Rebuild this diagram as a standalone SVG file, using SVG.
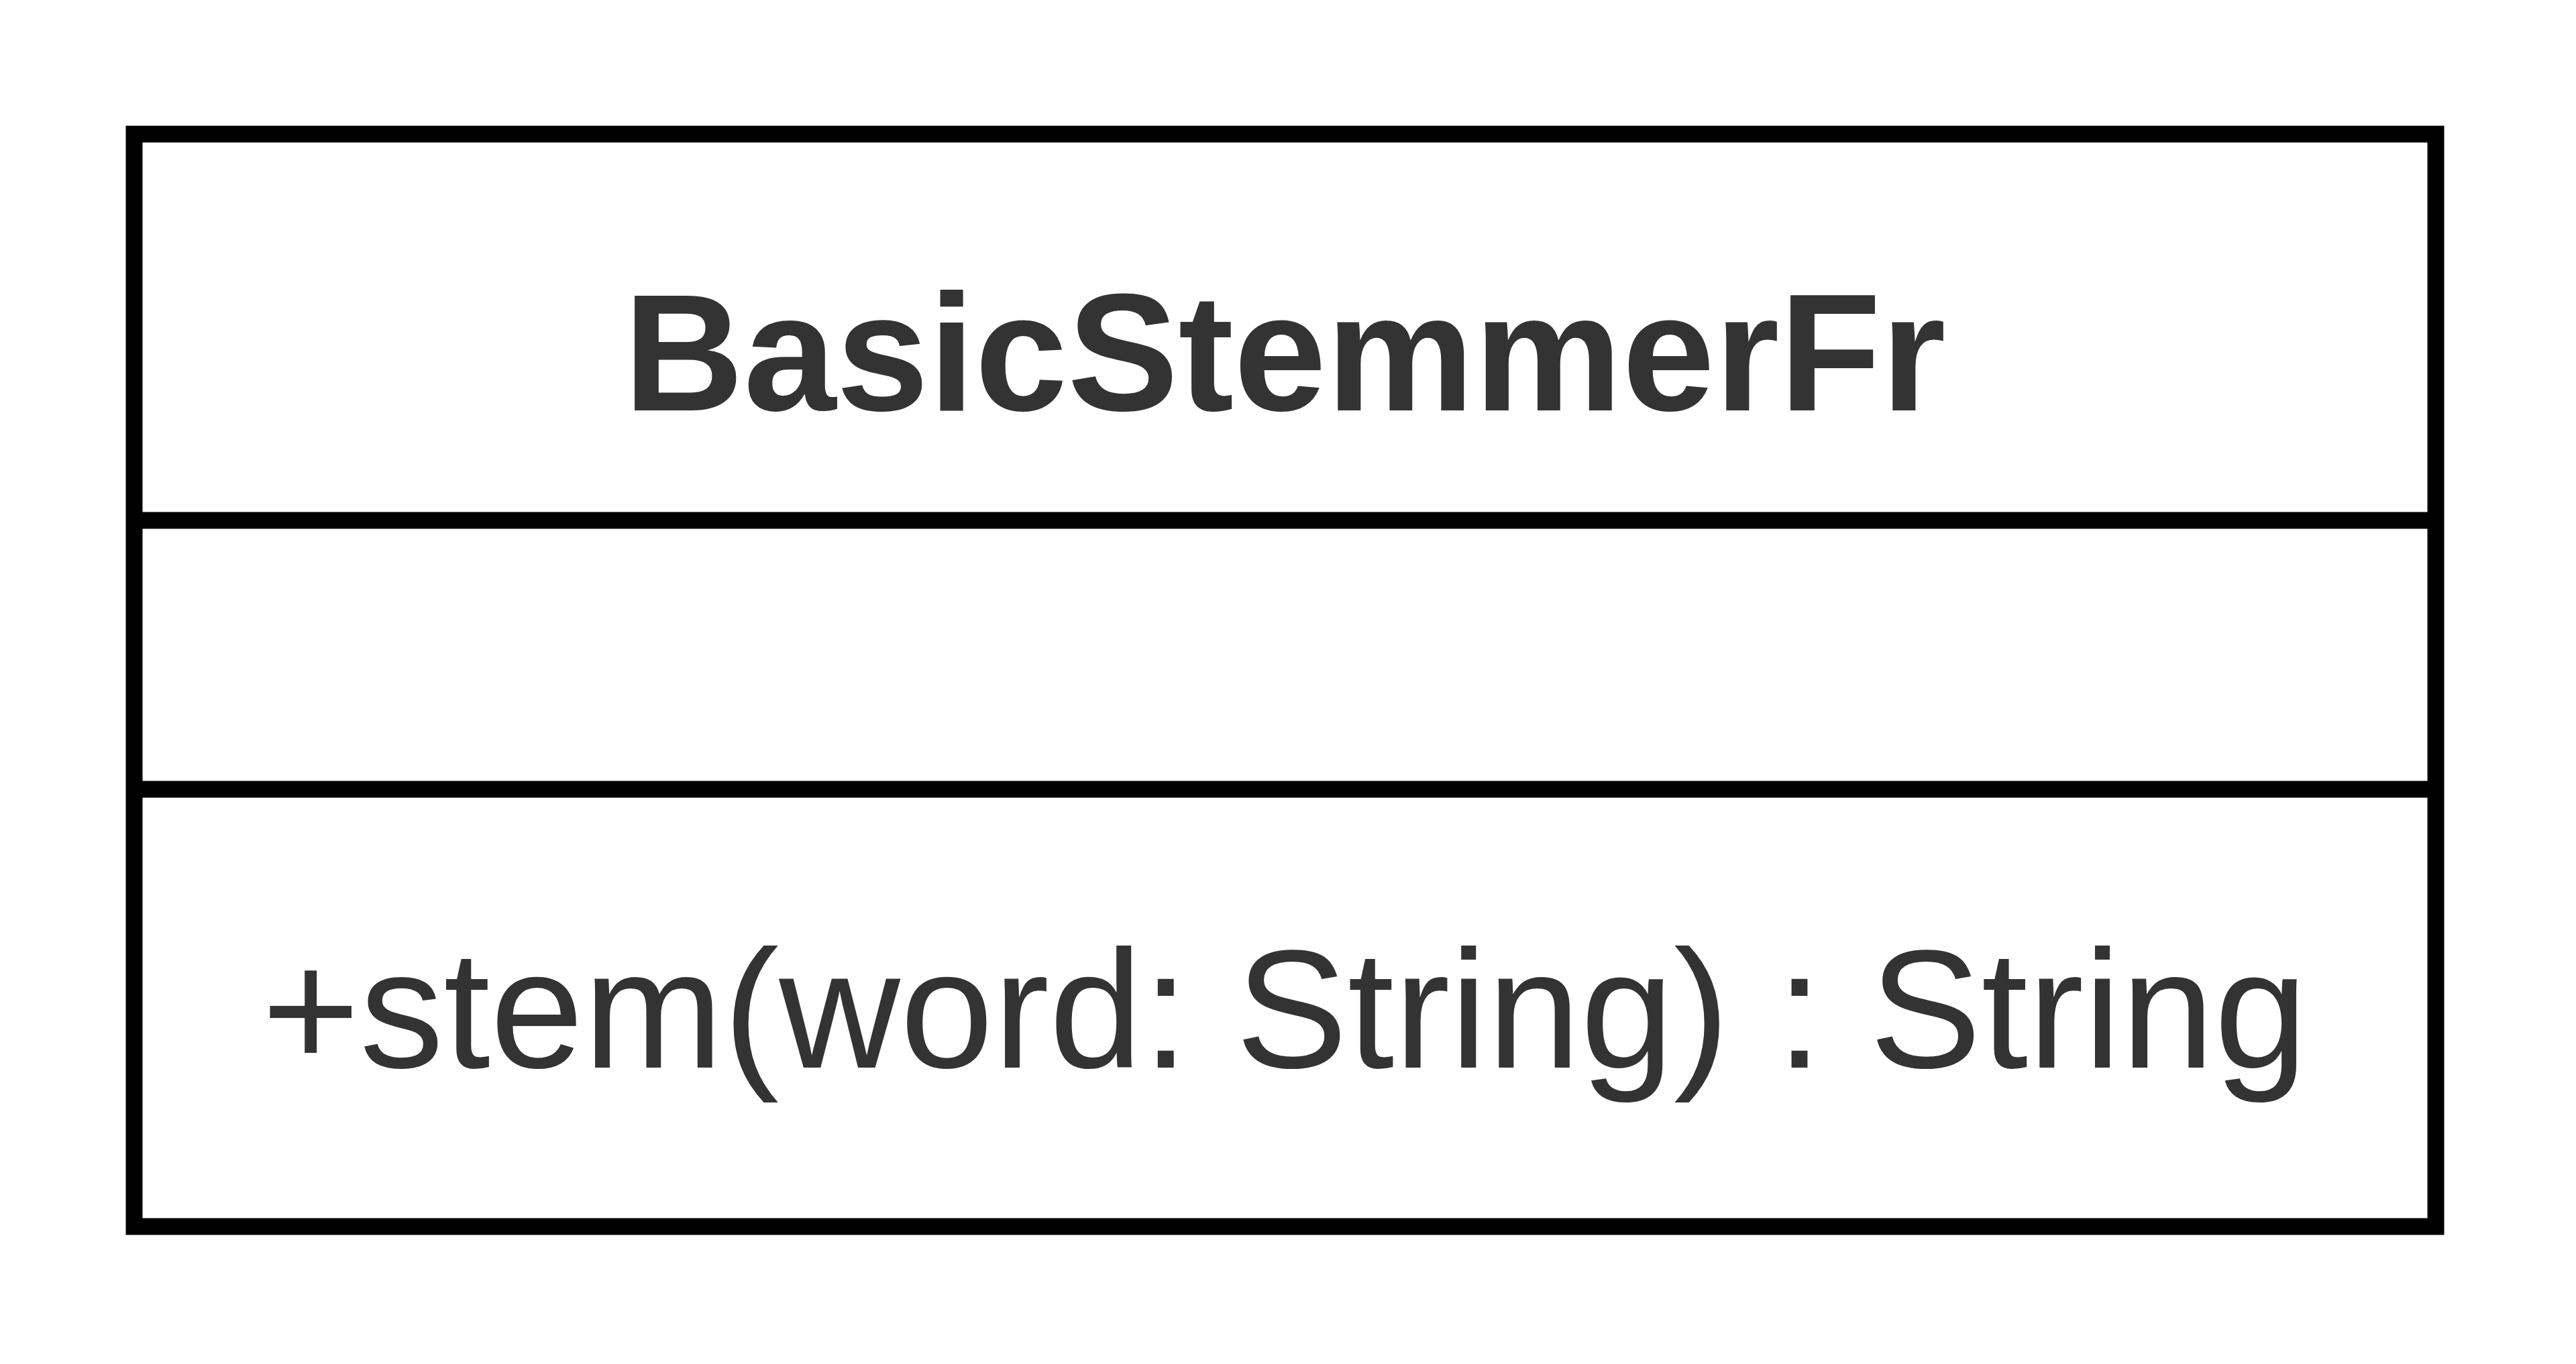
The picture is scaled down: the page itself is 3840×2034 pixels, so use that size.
<svg xmlns="http://www.w3.org/2000/svg" width="3840" height="2034" viewBox="0 0 3840 2034">
  <style>
    .box { fill: #ffffff; stroke: #000000; stroke-width: 25; }
    .div { stroke: #000000; stroke-width: 25; }
    .title { font-family: "Liberation Sans", Arial, sans-serif; font-weight: bold; font-size: 248px; fill: #333333; text-anchor: middle; }
    .member { font-family: "Liberation Sans", Arial, sans-serif; font-size: 250px; fill: #333333; text-anchor: middle; }
  </style>
  <rect x="0" y="0" width="3840" height="2034" fill="#ffffff"/>
  <g id="node-BasicStemmerFr">
    <rect class="box" x="200" y="200" width="3431" height="1629"/>
    <line class="div" x1="200" y1="776" x2="3631" y2="776"/>
    <line class="div" x1="200" y1="1177" x2="3631" y2="1177"/>
    <text class="title" x="1915" y="612">BasicStemmerFr</text>
    <text class="member" x="1915" y="1592">+stem(word: String) : String</text>
  </g>
  <g id="connectors"/>
</svg>
